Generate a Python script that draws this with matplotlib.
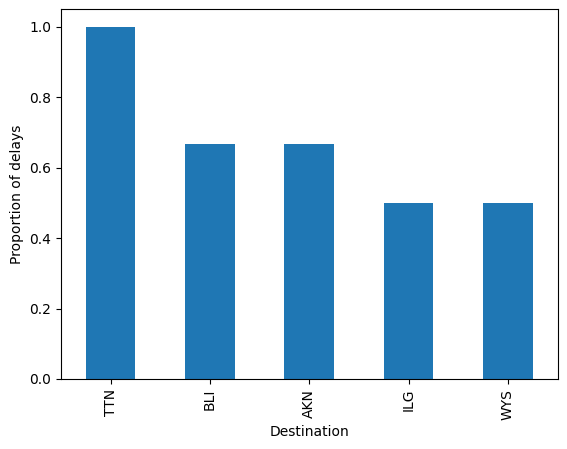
import matplotlib
matplotlib.use("Agg")
import matplotlib.pyplot as plt
import pandas as pd

destinations = ["TTN", "BLI", "AKN", "ILG", "WYS"]
delay_props = [1.0, 2 / 3, 2 / 3, 0.5, 0.5]

s = pd.Series(delay_props, index=destinations)

fig = plt.figure(figsize=(5.67, 4.49), dpi=100)
ax = fig.add_axes([61 / 567, 1 - 379 / 449, (557.5 - 61) / 567, (379 - 9) / 449])
s.plot(kind="bar", ax=ax, color="#1f77b4")
ax.set_xlabel("Destination")
ax.set_ylabel("Proportion of delays")
fig.savefig("out.png", dpi=100)
